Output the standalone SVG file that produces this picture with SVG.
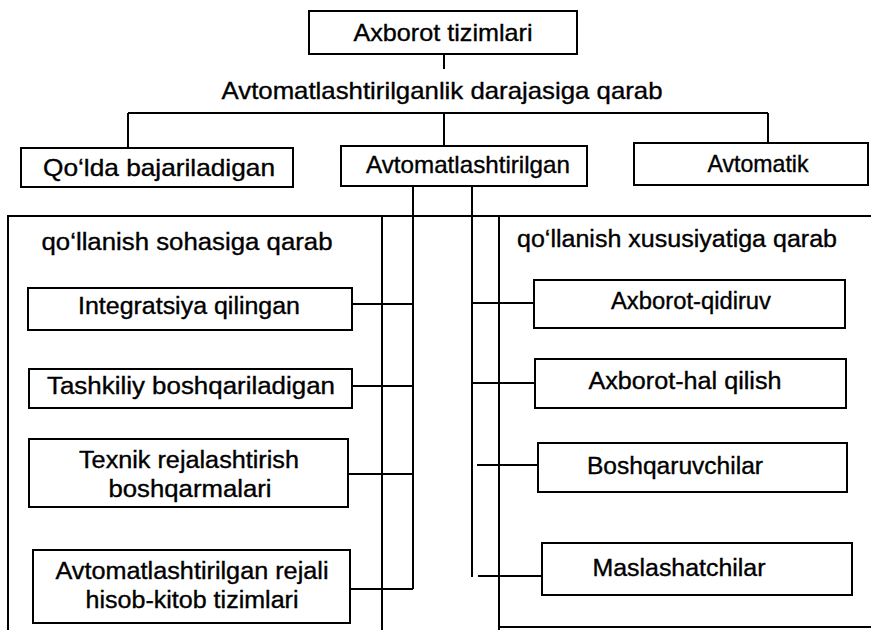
<svg xmlns="http://www.w3.org/2000/svg" width="871" height="630" viewBox="0 0 871 630">
<style>
.b{fill:#fff;stroke:#000;stroke-width:2}
.c{fill:none;stroke:#000;stroke-width:2}
text{font-family:"Liberation Sans",Arial,sans-serif;fill:#000;stroke:#000;stroke-width:0.35;text-anchor:middle}
.t{font-size:24px}
.s{font-size:23px}
</style>
<rect width="871" height="630" fill="#fff"/>
<g id="connectors">
<path class="c" d="M444 54V69M128 113H768M128 113V148M444 113V146M768 113V143"/>
<path class="c" d="M8 630V216H871M382 216V630M499 216V630M499 627H871"/>
<path class="c" d="M413 186V589M352 304H413M352 386H413M348 474H413M350 589H413"/>
<path class="c" d="M472 186V577M472 303H534M472 383H535M477 465H538M478 576H542"/>
</g>
<g id="n_root"><rect class="b" x="309" y="11" width="268" height="43"/><text class="t" x="443" y="41" textLength="179" lengthAdjust="spacingAndGlyphs">Axborot tizimlari</text></g>
<g id="label_top"><text class="t" x="442" y="99" textLength="441" lengthAdjust="spacingAndGlyphs">Avtomatlashtirilganlik darajasiga qarab</text></g>
<g id="n_qolda"><rect class="b" x="21" y="148" width="272" height="39"/><text class="t" x="159" y="176" textLength="232" lengthAdjust="spacingAndGlyphs">Qo‘lda  bajariladigan</text></g>
<g id="n_avtomatlashtirilgan"><rect class="b" x="341" y="146" width="246" height="40"/><text class="t" x="468" y="173" textLength="204" lengthAdjust="spacingAndGlyphs">Avtomatlashtirilgan</text></g>
<g id="n_avtomatik"><rect class="b" x="634" y="143" width="234" height="42"/><text class="t" x="758" y="172" textLength="101" lengthAdjust="spacingAndGlyphs">Avtomatik</text></g>
<g id="label_left"><text class="s" x="187" y="250" textLength="291" lengthAdjust="spacingAndGlyphs">qo‘llanish sohasiga qarab</text></g>
<g id="label_right"><text class="s" x="677" y="247" textLength="320" lengthAdjust="spacingAndGlyphs">qo‘llanish xususiyatiga qarab</text></g>
<g id="n_integratsiya"><rect class="b" x="28" y="288" width="324" height="42"/><text class="s" x="189" y="314" textLength="222" lengthAdjust="spacingAndGlyphs">Integratsiya qilingan</text></g>
<g id="n_tashkiliy"><rect class="b" x="29" y="369" width="323" height="39"/><text class="s" x="191" y="394" textLength="288" lengthAdjust="spacingAndGlyphs">Tashkiliy  boshqariladigan</text></g>
<g id="n_texnik"><rect class="b" x="29" y="439" width="319" height="68"/><text class="s" x="189" y="468" textLength="220" lengthAdjust="spacingAndGlyphs">Texnik rejalashtirish</text><text class="s" x="190" y="497" textLength="163" lengthAdjust="spacingAndGlyphs">boshqarmalari</text></g>
<g id="n_arht"><rect class="b" x="33" y="550" width="317" height="73"/><text class="s" x="192" y="579" textLength="273" lengthAdjust="spacingAndGlyphs">Avtomatlashtirilgan rejali</text><text class="s" x="192" y="608" textLength="213" lengthAdjust="spacingAndGlyphs">hisob-kitob tizimlari</text></g>
<g id="n_qidiruv"><rect class="b" x="534" y="280" width="311" height="48"/><text class="s" x="691" y="309" textLength="160" lengthAdjust="spacingAndGlyphs">Axborot-qidiruv</text></g>
<g id="n_halqilish"><rect class="b" x="535" y="359" width="311" height="49"/><text class="s" x="685" y="389" textLength="193" lengthAdjust="spacingAndGlyphs">Axborot-hal  qilish</text></g>
<g id="n_boshqaruvchilar"><rect class="b" x="538" y="443" width="309" height="49"/><text class="s" x="675" y="474" textLength="176" lengthAdjust="spacingAndGlyphs">Boshqaruvchilar</text></g>
<g id="n_maslashatchilar"><rect class="b" x="542" y="543" width="310" height="52"/><text class="s" x="679" y="576" textLength="173" lengthAdjust="spacingAndGlyphs">Maslashatchilar</text></g>
</svg>
